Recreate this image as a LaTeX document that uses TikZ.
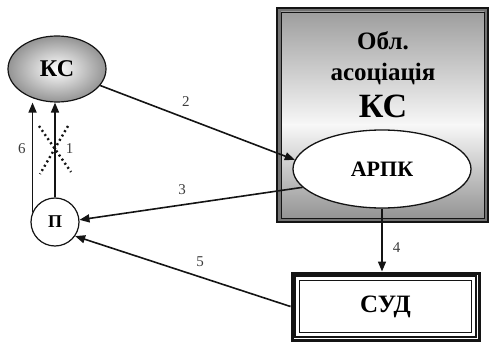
\documentclass[tikz,border=0pt]{standalone}
\usepackage{fontspec}
\setmainfont{Liberation Serif}
\usetikzlibrary{shapes.geometric}
\usetikzlibrary{arrows.meta}
\usetikzlibrary{calc}
\definecolor{zahl}{RGB}{60,60,60}
\definecolor{rahmen}{RGB}{20,20,20}
\colorlet{rahmen-grau}{black!55}

\tikzset{
  pfeil/.style={rahmen, line width=1.6, -{Triangle[length=10,width=8]}},
  nummer/.style={text=zahl, font=\fontsize{15}{15}\selectfont, inner sep=1},
  fett/.style={font=\bfseries\fontsize{#1}{#1}\selectfont},
  fett/.default=25,
}

\begin{document}
\begin{tikzpicture}[x=1pt, y=-1pt]
    \useasboundingbox (0,0) rectangle (489,347);

    % Oblast association frame
    \node[draw=rahmen, line width=2, fill=rahmen-grau, minimum width=211, minimum height=214] (obl) at (382.5,115) {};
    \coordinate (innen-nw) at ([shift={(5,5)}]obl.north west);
    \coordinate (innen-se) at ([shift={(-5,-5)}]obl.south east);
    \coordinate (hell) at (0,125);
    \shade[top color=black!38, bottom color=black!3] (innen-nw) rectangle (innen-se |- hell);
    \shade[top color=black!3, bottom color=black!42] (innen-nw |- hell) rectangle (innen-se);
    \draw[rahmen, line width=0.8] (innen-nw) rectangle (innen-se);

    \node[fett, anchor=base] (zeile1) at (383,50) {Обл.};
    \node[fett, anchor=base] (zeile2) at (383,81) {асоціація};
    \node[fett=34, anchor=base] (zeile3) at (383,118) {КС};

    \node[ellipse, draw=rahmen, line width=1.3, fill=white, minimum width=178, minimum height=78, fett=22] (arpk) at (382,169) {АРПК};

    % court
    \node[draw=rahmen, line width=3, fill=white, minimum width=187, minimum height=67, fett] (sud) at (385.5,306.5) {СУД};
    \draw[rahmen, line width=1.2] ([shift={(4.5,4.5)}]sud.north west) rectangle ([shift={(-4.5,-4.5)}]sud.south east);
    \draw[rahmen, line width=0.8] ([shift={(9,9)}]sud.north west) rectangle ([shift={(-9,-9)}]sud.south east);

    \node[ellipse, draw=rahmen, line width=1.2, inner color=white, outer color=black!42, minimum width=98, minimum height=66, fett=24] (ks) at (57,69) {КС};
    \node[circle, draw=rahmen, line width=1.2, fill=white, minimum size=48, inner sep=0, fett=18] (p) at (55,222) {П};

    % connectors
    \draw[pfeil] (ks) -- (arpk.174) node[nummer, pos=0.44, above=10] {2};
    \draw[pfeil] (arpk.193) -- (p.5) node[nummer, pos=0.54, above=8] {3};
    \draw[pfeil] (arpk.south) -- (arpk.south |- sud.north) node[nummer, pos=0.62, right=9] {4};
    \draw[pfeil] (sud.west) -- (p.-35) node[nummer, pos=0.42, above=8] {5};
    \draw[pfeil] (p.156) -- (p.156 |- ks.south) node[nummer, pos=0.58, left=5] {6};
    \draw[pfeil] (p.north) -- (p.north |- ks.south) coordinate[midway] (schnitt) node[nummer, pos=0.52, right=9] {1};

    % crossed out
    \draw[rahmen, line width=2.4, dash pattern=on 2pt off 3pt] ([shift={(-16,-24)}]schnitt) -- ([shift={(16,22)}]schnitt);
    \draw[rahmen, line width=2.4, dash pattern=on 2pt off 3pt] ([shift={(13,-24)}]schnitt) -- ([shift={(-15,24)}]schnitt);

\end{tikzpicture}
\end{document}
